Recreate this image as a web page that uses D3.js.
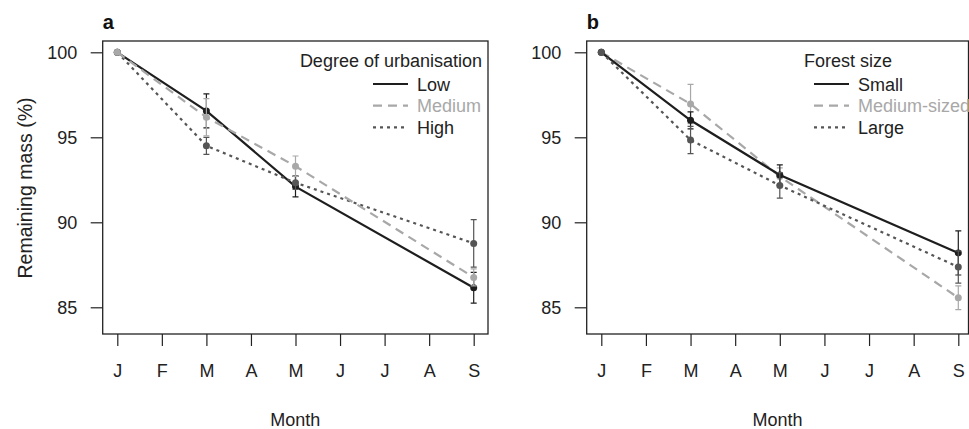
<!DOCTYPE html>
<html>
<head>
<meta charset="utf-8">
<script src="https://cdn.jsdelivr.net/npm/d3@7"></script>
<style>
  body { margin: 0; background: #fff; }
  svg { font-family: "Liberation Sans", Arial, sans-serif; }
</style>
</head>
<body>
<svg id="chart" width="969" height="429"></svg>
<script>
// month ticks and the months that were sampled
var months = ['J', 'F', 'M', 'A', 'M', 'J', 'J', 'A', 'S'];
var sampled = [0, 2, 4, 8];

// panel a: degree of urbanisation
var urbNames = ['Low', 'Medium', 'High'];
var urbLow = [100, 96.55, 92.1, 86.15];
var urbLowErr = [0, 1.0, 0.6, 0.9];
var urbMedium = [100, 96.18, 93.3, 86.76];
var urbMediumErr = [0, 1.1, 0.6, 0.5];
var urbHigh = [100, 94.5, 92.33, 88.76];
var urbHighErr = [0, 0.5, 0.4, 1.4];

// panel b: forest size
var sizeNames = ['Small', 'Medium-sized', 'Large'];
var sizeSmall = [100, 96.0, 92.78, 88.2];
var sizeSmallErr = [0, 0.5, 0.6, 1.3];
var sizeMedium = [100, 96.96, 92.7, 85.56];
var sizeMediumErr = [0, 1.15, 0.5, 0.7];
var sizeLarge = [100, 94.84, 92.17, 87.37];
var sizeLargeErr = [0, 0.8, 0.75, 0.95];

var yTicks = [85, 90, 95, 100];

var styles = [
  {color: '#1e1e1e', dash: null},
  {color: '#a8a8a8', dash: '9,6'},
  {color: '#555555', dash: '3,4'}
];

var FS = 18;
var svg = d3.select('#chart');

function panel(opts) {
  var x = d3.scaleLinear().domain([0, 8]).range(opts.xRange);
  var y = d3.scaleLinear().domain([85, 100]).range([307.3, 52.3]);
  var g = svg.append('g');

  // axes
  var xa = g.append('g')
    .attr('transform', 'translate(0,' + opts.box[3] + ')')
    .call(d3.axisBottom(x).tickValues(d3.range(9)).tickSize(12).tickPadding(18)
      .tickFormat(function (d) { return months[d]; }));
  var ya = g.append('g')
    .attr('transform', 'translate(' + opts.box[0] + ',0)')
    .call(d3.axisLeft(y).tickValues(yTicks).tickSize(12).tickPadding(13.5));
  [xa, ya].forEach(function (a) {
    a.select('.domain').remove();
    a.selectAll('line').attr('stroke', '#222').attr('stroke-width', 1.2);
    a.selectAll('text').attr('font-size', FS).attr('fill', '#222')
      .attr('font-family', '"Liberation Sans", Arial, sans-serif');
  });

  // box
  g.append('rect')
    .attr('x', opts.box[0]).attr('y', opts.box[1])
    .attr('width', opts.box[2] - opts.box[0]).attr('height', opts.box[3] - opts.box[1])
    .attr('fill', 'none').attr('stroke', '#222').attr('stroke-width', 1.3);

  var line = d3.line()
    .x(function (d, i) { return x(sampled[i]); })
    .y(function (d) { return y(d); });

  opts.order.forEach(function (k) {
    var s = opts.series[k], st = styles[k];
    var sg = g.append('g');
    sg.append('path').attr('d', line(s.values))
      .attr('fill', 'none').attr('stroke', st.color).attr('stroke-width', 2.2)
      .attr('stroke-dasharray', st.dash);
    s.values.forEach(function (v, i) {
      if (s.err[i] > 0) {
        var cx = x(sampled[i]);
        sg.append('path')
          .attr('d', 'M' + cx + ',' + y(v - s.err[i]) + 'V' + y(v + s.err[i]) +
            'M' + (cx - 3) + ',' + y(v - s.err[i]) + 'h6' +
            'M' + (cx - 3) + ',' + y(v + s.err[i]) + 'h6')
          .attr('stroke', st.color).attr('stroke-width', 1.2).attr('fill', 'none');
      }
    });
    sg.selectAll('circle').data(s.values).enter().append('circle')
      .attr('cx', function (d, i) { return x(sampled[i]); })
      .attr('cy', function (d) { return y(d); })
      .attr('r', 3.5).attr('fill', st.color);
  });

  // legend
  var lg = g.append('g').attr('font-size', FS);
  lg.append('text').attr('x', opts.legend.titleX).attr('y', 67)
    .attr('text-anchor', opts.legend.anchor).attr('fill', '#222').text(opts.legend.title);
  opts.names.forEach(function (n, i) {
    var yy = 84 + i * 21.7;
    lg.append('line').attr('x1', opts.legend.x1).attr('x2', opts.legend.x1 + 35)
      .attr('y1', yy).attr('y2', yy)
      .attr('stroke', styles[i].color).attr('stroke-width', 2.2)
      .attr('stroke-dasharray', styles[i].dash);
    lg.append('text').attr('x', opts.legend.x1 + 44).attr('y', yy + 6.5)
      .attr('fill', i === 1 ? '#a8a8a8' : '#222').text(n);
  });

  // panel letter
  g.append('text').attr('x', opts.box[0]).attr('y', 28.5)
    .attr('font-size', 20).attr('font-weight', 'bold').attr('fill', '#111')
    .text(opts.letter);

  g.append('text').attr('x', (opts.box[0] + opts.box[2]) / 2).attr('y', 425.5)
    .attr('text-anchor', 'middle').attr('font-size', FS).attr('fill', '#222')
    .text('Month');
}

panel({
  letter: 'a',
  box: [102.7, 41, 488, 334],
  xRange: [117.3, 473.7],
  names: urbNames,
  series: [
    {values: urbLow, err: urbLowErr},
    {values: urbMedium, err: urbMediumErr},
    {values: urbHigh, err: urbHighErr}
  ],
  order: [0, 2, 1],
  legend: {title: 'Degree of urbanisation', titleX: 482, anchor: 'end', x1: 373}
});

panel({
  letter: 'b',
  box: [586.7, 41, 968.5, 334],
  xRange: [601.3, 958.3],
  names: sizeNames,
  series: [
    {values: sizeSmall, err: sizeSmallErr},
    {values: sizeMedium, err: sizeMediumErr},
    {values: sizeLarge, err: sizeLargeErr}
  ],
  order: [1, 0, 2],
  legend: {title: 'Forest size', titleX: 804, anchor: 'start', x1: 814}
});

svg.append('text')
  .attr('transform', 'translate(32,188) rotate(-90)')
  .attr('text-anchor', 'middle').attr('font-size', 19.5).attr('fill', '#222')
  .text('Remaining mass (%)');
</script>
</body>
</html>
